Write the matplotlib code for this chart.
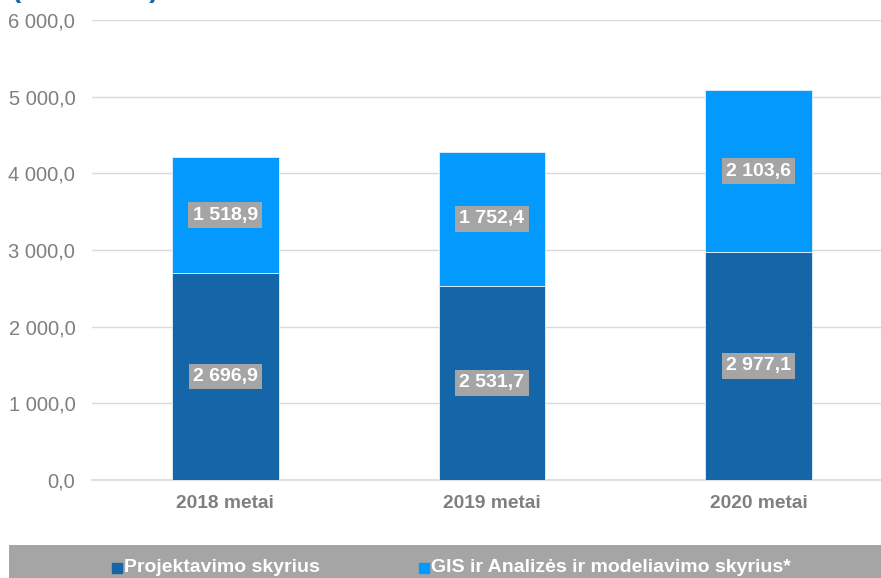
import matplotlib.pyplot as plt
import matplotlib.patches as mpatches
import numpy as np

plt.rcParams["font.family"] = ["Liberation Sans", "DejaVu Sans"]

categories = ["2018 metai", "2019 metai", "2020 metai"]
projektavimo = [2696.9, 2531.7, 2977.1]
gis = [1518.9, 1752.4, 2103.6]
series_names = ["Projektavimo skyrius", "GIS ir Analizės ir modeliavimo skyrius*"]
yticks = [0, 1000, 2000, 3000, 4000, 5000, 6000]

DARK = "#1565a9"
LIGHT = "#0399fd"
GREY_TXT = "#7f7f7f"
BAND = "#a5a5a5"


def fmt(v):
    s = f"{v:,.1f}"
    return s.replace(",", " ").replace(".", ",")


W, H = 881, 578
fig = plt.figure(figsize=(W / 100, H / 100), dpi=100)
ax = fig.add_axes([92 / W, 1 - 480 / H, 1 - 92 / W, (480 - 20) / H])

x = np.arange(len(categories))
b1 = ax.bar(x, projektavimo, width=0.4, color=DARK, edgecolor="#e6f0fa", lw=0.6, zorder=3)
b2 = ax.bar(x, gis, width=0.4, bottom=projektavimo, color=LIGHT, edgecolor="#e6f0fa", lw=0.6, zorder=3)

box = dict(boxstyle="square,pad=0.22", fc=BAND, ec="none")
for xi, p, g in zip(x, projektavimo, gis):
    ax.text(xi, p / 2, fmt(p), ha="center", va="center", color="white",
            fontsize=14, fontweight="bold", bbox=box, zorder=4)
    ax.text(xi, p + g / 2, fmt(g), ha="center", va="center", color="white",
            fontsize=14, fontweight="bold", bbox=box, zorder=4)

ax.set_xlim(-0.5, 2.46)
ax.set_ylim(0, 6000)
ax.set_yticks(yticks)
ax.set_yticklabels([fmt(v) for v in yticks], color=GREY_TXT, fontsize=14.5)
ax.set_xticks(x)
ax.set_xticklabels(categories, color=GREY_TXT, fontsize=13.8, fontweight="bold")
ax.tick_params(axis="both", length=0)
ax.tick_params(axis="y", pad=12)
ax.tick_params(axis="x", pad=11)
for sp in ax.spines.values():
    sp.set_visible(False)
ax.grid(axis="y", color="#d9d9d9", lw=1, zorder=0)
ax.axhline(0, color="#d9d9d9", lw=1.2, zorder=2, clip_on=False)

# partially visible title at the very top
fig.text(12 / W, 1 + 3 / H, "(tūkst. Eur)", color=DARK, fontsize=20,
         fontweight="bold", ha="left", va="baseline")

# legend band
fig.add_artist(mpatches.Rectangle((9 / W, 0), 1 - 9 / W, 33 / H,
                                  transform=fig.transFigure, fc=BAND, ec="none"))
handles = [mpatches.Patch(color=DARK), mpatches.Patch(color=LIGHT)]
leg = fig.legend(handles, series_names, loc="center left",
                 bbox_to_anchor=(112 / W, 10 / H), ncol=2, frameon=False,
                 handlelength=0.75, handleheight=0.75, handletextpad=0.15,
                 columnspacing=7.1, borderaxespad=0, borderpad=0)
for t in leg.get_texts():
    t.set_color("white")
    t.set_fontweight("bold")
    t.set_fontsize(14)

fig.savefig("out.png", dpi=100)
